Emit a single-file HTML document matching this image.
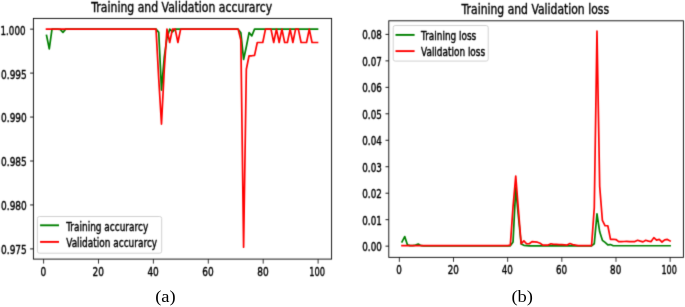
<!DOCTYPE html>
<html lang="en"><head><meta charset="utf-8"><title>Training and Validation curves</title>
<style>html,body{margin:0;padding:0;background:#fff}body{width:685px;height:307px;overflow:hidden}</style></head>
<body>
<svg width="685" height="307" viewBox="0 0 685 307" style="display:block">
<defs><filter id="soft" x="0" y="0" width="685" height="307" filterUnits="userSpaceOnUse" color-interpolation-filters="sRGB"><feConvolveMatrix order="3" kernelMatrix="0.01433 0.09104 0.01433 0.09104 0.57851 0.09104 0.01433 0.09104 0.01433" divisor="1" edgeMode="duplicate" preserveAlpha="false"/></filter></defs>
<rect width="685" height="307" fill="#fff"/>
<g filter="url(#soft)">
<rect x="33.4" y="18.4" width="298.20" height="240.70" fill="#fff" stroke="#000" stroke-width="0.9"/>
<line x1="43.60" y1="259.1" x2="43.60" y2="263.60" stroke="#000" stroke-width="0.8"/>
<text transform="translate(43.30 276.10) scale(0.775 1)" font-family="'DejaVu Sans', 'Liberation Sans', sans-serif" font-size="11.6" text-anchor="middle" fill="#000" stroke="#000" stroke-width="0.4">0</text>
<line x1="98.50" y1="259.1" x2="98.50" y2="263.60" stroke="#000" stroke-width="0.8"/>
<text transform="translate(98.20 276.10) scale(0.775 1)" font-family="'DejaVu Sans', 'Liberation Sans', sans-serif" font-size="11.6" text-anchor="middle" fill="#000" stroke="#000" stroke-width="0.4">20</text>
<line x1="153.40" y1="259.1" x2="153.40" y2="263.60" stroke="#000" stroke-width="0.8"/>
<text transform="translate(153.10 276.10) scale(0.775 1)" font-family="'DejaVu Sans', 'Liberation Sans', sans-serif" font-size="11.6" text-anchor="middle" fill="#000" stroke="#000" stroke-width="0.4">40</text>
<line x1="208.30" y1="259.1" x2="208.30" y2="263.60" stroke="#000" stroke-width="0.8"/>
<text transform="translate(208.00 276.10) scale(0.775 1)" font-family="'DejaVu Sans', 'Liberation Sans', sans-serif" font-size="11.6" text-anchor="middle" fill="#000" stroke="#000" stroke-width="0.4">60</text>
<line x1="263.20" y1="259.1" x2="263.20" y2="263.60" stroke="#000" stroke-width="0.8"/>
<text transform="translate(262.90 276.10) scale(0.775 1)" font-family="'DejaVu Sans', 'Liberation Sans', sans-serif" font-size="11.6" text-anchor="middle" fill="#000" stroke="#000" stroke-width="0.4">80</text>
<line x1="318.10" y1="259.1" x2="318.10" y2="263.60" stroke="#000" stroke-width="0.8"/>
<text transform="translate(317.10 276.10) scale(0.7130000000000001 1)" font-family="'DejaVu Sans', 'Liberation Sans', sans-serif" font-size="11.6" text-anchor="middle" fill="#000" stroke="#000" stroke-width="0.4">100</text>
<line x1="30.10" y1="248.90" x2="33.4" y2="248.90" stroke="#000" stroke-width="0.9"/>
<text transform="translate(26.80 254.33) scale(0.775 1)" font-family="'DejaVu Sans', 'Liberation Sans', sans-serif" font-size="11.6" text-anchor="end" fill="#000" stroke="#000" stroke-width="0.4">0.975</text>
<line x1="30.10" y1="204.95" x2="33.4" y2="204.95" stroke="#000" stroke-width="0.9"/>
<text transform="translate(26.80 210.38) scale(0.775 1)" font-family="'DejaVu Sans', 'Liberation Sans', sans-serif" font-size="11.6" text-anchor="end" fill="#000" stroke="#000" stroke-width="0.4">0.980</text>
<line x1="30.10" y1="161.00" x2="33.4" y2="161.00" stroke="#000" stroke-width="0.9"/>
<text transform="translate(26.80 166.43) scale(0.775 1)" font-family="'DejaVu Sans', 'Liberation Sans', sans-serif" font-size="11.6" text-anchor="end" fill="#000" stroke="#000" stroke-width="0.4">0.985</text>
<line x1="30.10" y1="117.05" x2="33.4" y2="117.05" stroke="#000" stroke-width="0.9"/>
<text transform="translate(26.80 122.48) scale(0.775 1)" font-family="'DejaVu Sans', 'Liberation Sans', sans-serif" font-size="11.6" text-anchor="end" fill="#000" stroke="#000" stroke-width="0.4">0.990</text>
<line x1="30.10" y1="73.10" x2="33.4" y2="73.10" stroke="#000" stroke-width="0.9"/>
<text transform="translate(26.80 78.53) scale(0.775 1)" font-family="'DejaVu Sans', 'Liberation Sans', sans-serif" font-size="11.6" text-anchor="end" fill="#000" stroke="#000" stroke-width="0.4">0.995</text>
<line x1="30.10" y1="29.15" x2="33.4" y2="29.15" stroke="#000" stroke-width="0.9"/>
<text transform="translate(25.50 34.58) scale(0.75175 1)" font-family="'DejaVu Sans', 'Liberation Sans', sans-serif" font-size="11.6" text-anchor="end" fill="#000" stroke="#000" stroke-width="0.4">1.000</text>
<text transform="translate(181.70 12.00) scale(0.778 1)" font-family="'DejaVu Sans', 'Liberation Sans', sans-serif" font-size="14.0" text-anchor="middle" fill="#000" stroke="#000" stroke-width="0.4">Training and Validation accurarcy</text>
<rect x="388.8" y="20.8" width="294.60" height="236.55" fill="#fff" stroke="#000" stroke-width="0.9"/>
<line x1="399.35" y1="257.35" x2="399.35" y2="261.85" stroke="#000" stroke-width="0.8"/>
<text transform="translate(399.05 274.00) scale(0.768 1)" font-family="'DejaVu Sans', 'Liberation Sans', sans-serif" font-size="11.426" text-anchor="middle" fill="#000" stroke="#000" stroke-width="0.4">0</text>
<line x1="453.51" y1="257.35" x2="453.51" y2="261.85" stroke="#000" stroke-width="0.8"/>
<text transform="translate(453.21 274.00) scale(0.768 1)" font-family="'DejaVu Sans', 'Liberation Sans', sans-serif" font-size="11.426" text-anchor="middle" fill="#000" stroke="#000" stroke-width="0.4">20</text>
<line x1="507.67" y1="257.35" x2="507.67" y2="261.85" stroke="#000" stroke-width="0.8"/>
<text transform="translate(507.37 274.00) scale(0.768 1)" font-family="'DejaVu Sans', 'Liberation Sans', sans-serif" font-size="11.426" text-anchor="middle" fill="#000" stroke="#000" stroke-width="0.4">40</text>
<line x1="561.83" y1="257.35" x2="561.83" y2="261.85" stroke="#000" stroke-width="0.8"/>
<text transform="translate(561.53 274.00) scale(0.768 1)" font-family="'DejaVu Sans', 'Liberation Sans', sans-serif" font-size="11.426" text-anchor="middle" fill="#000" stroke="#000" stroke-width="0.4">60</text>
<line x1="615.99" y1="257.35" x2="615.99" y2="261.85" stroke="#000" stroke-width="0.8"/>
<text transform="translate(615.69 274.00) scale(0.768 1)" font-family="'DejaVu Sans', 'Liberation Sans', sans-serif" font-size="11.426" text-anchor="middle" fill="#000" stroke="#000" stroke-width="0.4">80</text>
<line x1="670.15" y1="257.35" x2="670.15" y2="261.85" stroke="#000" stroke-width="0.8"/>
<text transform="translate(669.15 274.00) scale(0.7065600000000001 1)" font-family="'DejaVu Sans', 'Liberation Sans', sans-serif" font-size="11.426" text-anchor="middle" fill="#000" stroke="#000" stroke-width="0.4">100</text>
<line x1="385.50" y1="246.15" x2="388.8" y2="246.15" stroke="#000" stroke-width="0.9"/>
<text transform="translate(381.80 251.22) scale(0.768 1)" font-family="'DejaVu Sans', 'Liberation Sans', sans-serif" font-size="11.426" text-anchor="end" fill="#000" stroke="#000" stroke-width="0.4">0.00</text>
<line x1="385.50" y1="219.68" x2="388.8" y2="219.68" stroke="#000" stroke-width="0.9"/>
<text transform="translate(381.80 224.75) scale(0.768 1)" font-family="'DejaVu Sans', 'Liberation Sans', sans-serif" font-size="11.426" text-anchor="end" fill="#000" stroke="#000" stroke-width="0.4">0.01</text>
<line x1="385.50" y1="193.21" x2="388.8" y2="193.21" stroke="#000" stroke-width="0.9"/>
<text transform="translate(381.80 198.28) scale(0.768 1)" font-family="'DejaVu Sans', 'Liberation Sans', sans-serif" font-size="11.426" text-anchor="end" fill="#000" stroke="#000" stroke-width="0.4">0.02</text>
<line x1="385.50" y1="166.74" x2="388.8" y2="166.74" stroke="#000" stroke-width="0.9"/>
<text transform="translate(381.80 171.81) scale(0.768 1)" font-family="'DejaVu Sans', 'Liberation Sans', sans-serif" font-size="11.426" text-anchor="end" fill="#000" stroke="#000" stroke-width="0.4">0.03</text>
<line x1="385.50" y1="140.27" x2="388.8" y2="140.27" stroke="#000" stroke-width="0.9"/>
<text transform="translate(381.80 145.34) scale(0.768 1)" font-family="'DejaVu Sans', 'Liberation Sans', sans-serif" font-size="11.426" text-anchor="end" fill="#000" stroke="#000" stroke-width="0.4">0.04</text>
<line x1="385.50" y1="113.80" x2="388.8" y2="113.80" stroke="#000" stroke-width="0.9"/>
<text transform="translate(381.80 118.87) scale(0.768 1)" font-family="'DejaVu Sans', 'Liberation Sans', sans-serif" font-size="11.426" text-anchor="end" fill="#000" stroke="#000" stroke-width="0.4">0.05</text>
<line x1="385.50" y1="87.33" x2="388.8" y2="87.33" stroke="#000" stroke-width="0.9"/>
<text transform="translate(381.80 92.40) scale(0.768 1)" font-family="'DejaVu Sans', 'Liberation Sans', sans-serif" font-size="11.426" text-anchor="end" fill="#000" stroke="#000" stroke-width="0.4">0.06</text>
<line x1="385.50" y1="60.86" x2="388.8" y2="60.86" stroke="#000" stroke-width="0.9"/>
<text transform="translate(381.80 65.93) scale(0.768 1)" font-family="'DejaVu Sans', 'Liberation Sans', sans-serif" font-size="11.426" text-anchor="end" fill="#000" stroke="#000" stroke-width="0.4">0.07</text>
<line x1="385.50" y1="34.39" x2="388.8" y2="34.39" stroke="#000" stroke-width="0.9"/>
<text transform="translate(381.80 39.46) scale(0.768 1)" font-family="'DejaVu Sans', 'Liberation Sans', sans-serif" font-size="11.426" text-anchor="end" fill="#000" stroke="#000" stroke-width="0.4">0.08</text>
<text transform="translate(535.30 14.15) scale(0.784 1)" font-family="'DejaVu Sans', 'Liberation Sans', sans-serif" font-size="13.79" text-anchor="middle" fill="#000" stroke="#000" stroke-width="0.4">Training and Validation loss</text>
<polyline points="46.54,35.48 49.27,48.93 52.01,29.15 54.75,29.15 57.48,29.15 60.22,29.33 62.96,32.40 65.70,29.15 68.43,29.15 71.17,29.15 73.91,29.15 76.64,29.15 79.38,29.15 82.12,29.15 84.85,29.15 87.59,29.15 90.33,29.15 93.07,29.15 95.80,29.15 98.54,29.15 101.28,29.15 104.01,29.15 106.75,29.15 109.49,29.15 112.22,29.15 114.96,29.15 117.70,29.15 120.44,29.15 123.17,29.15 125.91,29.15 128.65,29.15 131.38,29.15 134.12,29.15 136.86,29.15 139.59,29.15 142.33,29.15 145.07,29.15 147.81,29.15 150.54,29.15 153.28,29.15 156.02,29.15 158.75,32.40 161.49,90.06 164.23,57.28 166.97,37.94 169.70,29.15 172.44,31.79 175.18,29.15 177.91,29.15 180.65,29.15 183.39,29.15 186.12,29.15 188.86,29.15 191.60,29.15 194.33,29.15 197.07,29.15 199.81,29.15 202.55,29.15 205.28,29.15 208.02,29.15 210.76,29.15 213.49,29.15 216.23,29.15 218.97,29.15 221.70,29.15 224.44,29.15 227.18,29.15 229.92,29.15 232.65,29.15 235.39,29.15 238.13,29.15 240.86,32.67 243.60,59.48 246.34,46.73 249.07,32.67 251.81,35.92 254.55,29.15 257.29,29.15 260.02,29.15 262.76,29.15 265.50,29.15 268.23,29.15 270.97,29.15 273.71,29.15 276.44,29.15 279.18,29.15 281.92,29.15 284.66,29.15 287.39,29.15 290.13,29.15 292.87,29.15 295.60,29.15 298.34,29.15 301.08,29.15 303.81,29.15 306.55,29.15 309.29,29.15 312.03,29.15 314.76,29.15 317.50,29.15" fill="none" stroke="#008000" stroke-width="1.7" stroke-linejoin="round" stroke-linecap="square"/>
<polyline points="46.54,29.15 49.27,29.15 52.01,29.15 54.75,29.15 57.48,29.15 60.22,29.15 62.96,29.15 65.70,29.15 68.43,29.15 71.17,29.15 73.91,29.15 76.64,29.15 79.38,29.15 82.12,29.15 84.85,29.15 87.59,29.15 90.33,29.15 93.07,29.15 95.80,29.15 98.54,29.15 101.28,29.15 104.01,29.15 106.75,29.15 109.49,29.15 112.22,29.15 114.96,29.15 117.70,29.15 120.44,29.15 123.17,29.15 125.91,29.15 128.65,29.15 131.38,29.15 134.12,29.15 136.86,29.15 139.59,29.15 142.33,29.15 145.07,29.15 147.81,29.15 150.54,29.15 153.28,29.15 156.02,29.15 158.75,79.25 161.49,124.08 164.23,70.46 166.97,29.15 169.70,42.51 172.44,29.15 175.18,29.15 177.91,42.51 180.65,29.15 183.39,29.15 186.12,29.15 188.86,29.15 191.60,29.15 194.33,29.15 197.07,29.15 199.81,29.15 202.55,29.15 205.28,29.15 208.02,29.15 210.76,29.15 213.49,29.15 216.23,29.15 218.97,29.15 221.70,29.15 224.44,29.15 227.18,29.15 229.92,29.15 232.65,29.15 235.39,29.15 238.13,29.15 240.86,40.14 243.60,247.14 246.34,69.23 249.07,55.78 251.81,55.78 254.55,55.34 257.29,42.51 260.02,42.51 262.76,42.51 265.50,29.15 268.23,29.15 270.97,29.15 273.71,42.51 276.44,29.15 279.18,42.51 281.92,29.15 284.66,42.51 287.39,42.51 290.13,29.15 292.87,42.51 295.60,29.15 298.34,29.15 301.08,42.51 303.81,42.51 306.55,42.51 309.29,29.15 312.03,42.51 314.76,42.51 317.50,42.51" fill="none" stroke="#ff0000" stroke-width="1.7" stroke-linejoin="round" stroke-linecap="square"/>
<polyline points="402.01,241.91 404.72,236.62 407.42,244.83 410.13,245.62 412.84,245.62 415.55,245.09 418.26,244.03 420.96,245.62 423.67,245.83 426.38,245.83 429.09,245.83 431.80,245.83 434.50,245.83 437.21,245.83 439.92,245.83 442.63,245.83 445.34,245.83 448.04,245.83 450.75,245.83 453.46,245.83 456.17,245.83 458.88,245.83 461.58,245.83 464.29,245.83 467.00,245.83 469.71,245.83 472.42,245.83 475.12,245.83 477.83,245.83 480.54,245.83 483.25,245.83 485.96,245.83 488.66,245.83 491.37,245.83 494.08,245.83 496.79,245.83 499.50,245.83 502.20,245.83 504.91,245.83 507.62,245.83 510.33,245.83 513.04,241.91 515.74,187.92 518.45,217.03 521.16,244.03 523.87,245.36 526.58,245.62 529.28,245.83 531.99,245.83 534.70,245.83 537.41,245.83 540.12,245.83 542.82,245.83 545.53,245.83 548.24,245.83 550.95,245.83 553.66,245.83 556.36,245.83 559.07,245.83 561.78,245.83 564.49,245.83 567.20,245.83 569.90,245.83 572.61,245.83 575.32,245.83 578.03,245.83 580.74,245.83 583.44,245.83 586.15,245.83 588.86,245.83 591.57,245.83 594.28,243.77 596.98,213.86 599.69,231.86 602.40,240.33 605.11,242.44 607.82,244.83 610.52,244.56 613.23,245.73 615.94,245.73 618.65,245.73 621.36,245.73 624.06,245.73 626.77,245.73 629.48,245.73 632.19,245.73 634.90,245.73 637.60,245.73 640.31,245.73 643.02,245.73 645.73,245.73 648.44,245.73 651.14,245.73 653.85,245.73 656.56,245.73 659.27,245.73 661.98,245.73 664.68,245.73 667.39,245.73 670.10,245.73" fill="none" stroke="#008000" stroke-width="1.7" stroke-linejoin="round" stroke-linecap="square"/>
<polyline points="402.01,245.57 404.72,245.57 407.42,245.57 410.13,245.57 412.84,245.57 415.55,245.57 418.26,245.57 420.96,245.57 423.67,245.57 426.38,245.57 429.09,245.57 431.80,245.57 434.50,245.57 437.21,245.57 439.92,245.57 442.63,245.57 445.34,245.57 448.04,245.57 450.75,245.57 453.46,245.57 456.17,245.57 458.88,245.57 461.58,245.57 464.29,245.57 467.00,245.57 469.71,245.57 472.42,245.57 475.12,245.57 477.83,245.57 480.54,245.57 483.25,245.57 485.96,245.57 488.66,245.57 491.37,245.57 494.08,245.57 496.79,245.57 499.50,245.57 502.20,245.57 504.91,245.57 507.62,245.57 510.33,245.09 513.04,206.44 515.74,176.00 518.45,210.42 521.16,243.77 523.87,240.86 526.58,243.77 529.28,243.77 531.99,241.60 534.70,241.91 537.41,242.18 540.12,243.24 542.82,245.09 545.53,245.09 548.24,245.09 550.95,243.77 553.66,244.30 556.36,244.30 559.07,244.56 561.78,244.56 564.49,244.83 567.20,245.09 569.90,243.50 572.61,244.56 575.32,245.09 578.03,245.57 580.74,245.57 583.44,245.57 586.15,245.57 588.86,245.57 591.57,245.57 594.28,207.77 596.98,31.21 599.69,186.33 602.40,220.47 605.11,225.77 607.82,225.77 610.52,239.40 613.23,239.27 615.94,239.53 618.65,241.65 621.36,241.60 624.06,241.52 626.77,241.33 629.48,241.60 632.19,241.60 634.90,241.60 637.60,240.27 640.31,241.15 643.02,241.86 645.73,240.27 648.44,241.15 651.14,241.60 653.85,237.63 656.56,240.09 659.27,239.40 661.98,242.02 664.68,239.82 667.39,239.40 670.10,240.96" fill="none" stroke="#ff0000" stroke-width="1.7" stroke-linejoin="round" stroke-linecap="square"/>
<rect x="37.4" y="216.5" width="124.3" height="36.7" rx="2" ry="2" fill="#fff" fill-opacity="0.8" stroke="#ccc" stroke-width="0.9"/>
<line x1="40.1" y1="225.3" x2="59.0" y2="225.3" stroke="#008000" stroke-width="1.9"/>
<line x1="40.1" y1="241.9" x2="59.0" y2="241.9" stroke="#ff0000" stroke-width="1.9"/>
<text transform="translate(66.20 230.70) scale(0.766 1)" font-family="'DejaVu Sans', 'Liberation Sans', sans-serif" font-size="11.7" text-anchor="start" fill="#000" stroke="#000" stroke-width="0.4">Training accurarcy</text>
<text transform="translate(66.20 247.20) scale(0.766 1)" font-family="'DejaVu Sans', 'Liberation Sans', sans-serif" font-size="11.7" text-anchor="start" fill="#000" stroke="#000" stroke-width="0.4">Validation accurarcy</text>
<rect x="393.2" y="25.5" width="95.0" height="35.6" rx="2" ry="2" fill="#fff" fill-opacity="0.8" stroke="#ccc" stroke-width="0.9"/>
<line x1="395.5" y1="34.9" x2="414.6" y2="34.9" stroke="#008000" stroke-width="1.9"/>
<line x1="395.5" y1="51.1" x2="414.6" y2="51.1" stroke="#ff0000" stroke-width="1.9"/>
<text transform="translate(421.00 39.50) scale(0.775 1)" font-family="'DejaVu Sans', 'Liberation Sans', sans-serif" font-size="11.5245" text-anchor="start" fill="#000" stroke="#000" stroke-width="0.4">Training loss</text>
<text transform="translate(421.00 55.80) scale(0.775 1)" font-family="'DejaVu Sans', 'Liberation Sans', sans-serif" font-size="11.5245" text-anchor="start" fill="#000" stroke="#000" stroke-width="0.4">Validation loss</text>
</g>
<text transform="translate(165.45 302.0) scale(1.058 1)" font-family="'Liberation Serif', serif" font-size="17.5" text-anchor="middle" fill="#000">(a)</text>
<text transform="translate(522.2 302.0) scale(1.058 1)" font-family="'Liberation Serif', serif" font-size="17.5" text-anchor="middle" fill="#000">(b)</text>
</svg>
</body></html>
